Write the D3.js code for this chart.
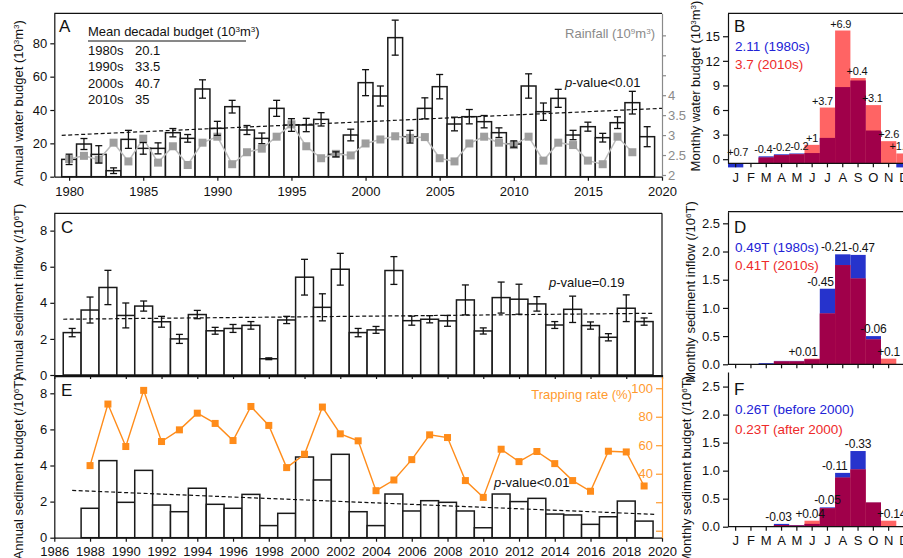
<!DOCTYPE html>
<html><head><meta charset="utf-8">
<script src="https://cdn.jsdelivr.net/npm/d3@7"></script>
<style>
body{margin:0;background:#fff}
svg{font-family:"Liberation Sans Narrow","Arial Narrow","Liberation Sans",Arial,sans-serif}
.axis text{font-size:13px;fill:#111}
.axis path,.axis line{stroke:#111;stroke-width:1.2}
.grey text{fill:#8a8a8a}.grey path,.grey line{stroke:#8a8a8a}
.orange text{fill:#ff9a2e}.orange path,.orange line{stroke:#ff9a2e}
</style></head><body>
<script>
// ---------- DATA ----------
const waterYears = d3.range(1980, 2020);
const waterBudget = [10.4,19.6,13.4,3.6,22.4,17,17,26.4,23,52.6,29,42,28,23,41,31,31,34.4,13.4,25,56.4,48.4,83.4,24,41,54,31.6,36,33,26.4,19.6,54.4,39,47,25,30,23.4,32.4,44.4,24];
const waterErr = [3.1,3.3,5.2,1.7,5.4,3.5,3.3,2.5,2.3,5.5,4.2,3.8,2.7,3.2,4.8,3.8,4.0,4.0,1.5,3.5,7.8,6.0,10.5,3.8,6.3,7.3,4.1,4.3,3.7,2.9,1.9,7.3,5.2,5.4,2.8,2.7,2.6,3.5,6.8,6.0];
const rainfall = [2.40,2.48,2.38,2.81,2.34,2.91,2.31,2.72,2.25,2.81,2.96,2.27,2.57,2.66,2.96,3.27,2.72,2.42,2.53,2.49,2.79,2.89,2.97,2.93,2.95,2.42,2.34,2.79,2.96,2.81,2.75,2.96,2.36,2.81,2.75,2.36,2.27,2.96,2.57,null];
const decades = ["1980s","1990s","2000s","2010s"];
const decadalMean = ["20.1","33.5","40.7","35"];
const trendWater = [[1979.5,24.8],[2020,41]];

const inflowYears = d3.range(1987, 2020);
const sedInflow = [2.35,3.6,4.85,3.3,3.82,2.95,2.0,3.35,2.45,2.58,2.75,0.9,3.05,5.42,3.75,5.86,2.35,2.5,5.79,3.01,3.09,3.0,4.16,2.44,4.29,4.2,3.94,2.77,3.64,2.74,2.09,3.7,2.96];
const sedInflowErr = [0.23,0.72,0.95,0.69,0.28,0.3,0.25,0.23,0.19,0.22,0.21,0.05,0.2,0.99,0.75,0.88,0.23,0.19,0.77,0.25,0.2,0.3,0.83,0.17,0.86,0.83,0.4,0.19,0.73,0.2,0.2,0.74,0.2];
const trendInflow = [[1986.5,3.09],[2019.5,3.42]];

const budgetYears = d3.range(1988, 2020);
const sedBudget = [1.63,4.27,1.96,3.73,1.81,1.44,2.74,1.85,1.63,2.40,0.67,1.35,4.47,3.2,4.62,1.44,0.67,2.42,1.48,2.05,1.96,1.48,0.55,2.42,2.0,2.18,1.31,1.26,0.74,1.16,2.03,0.92];
const trappingRate = [45.7,88.9,59.1,98.5,62.6,70.8,82.5,75.3,63.3,87.2,73.9,44.3,53.7,86.8,68.0,63.1,28.1,35.6,49.9,67.3,65.4,35.2,23.4,57.2,48.5,55.6,47.1,35.2,27.7,55.8,55.3,31.4];
const trendBudget = [[1987,2.62],[2019.7,1.29]];

const months = ["J","F","M","A","M","J","J","A","S","O","N","D"];
const water1980s = [-0.5,0,0.35,0.6,0.7,0.75,2.6,8.8,9.6,3.5,0,-0.5];
const water2010s = [0,0,0.2,0.5,0.6,1.75,6.3,15.7,9.9,6.6,2.2,0.7];
const waterDiff = ["+0.7","","-0.4","-0.2","-0.2","+1","+3.7","+6.9","+0.4","+3.1","+2.6","+1.2"];
const inflow1980s = [0,0,0.02,0.06,0.06,0.09,1.34,1.95,1.94,0.50,0,0];
const inflow2010s = [0,0,0,0.05,0.05,0.10,0.90,1.76,1.52,0.44,0.10,0];
const inflowDiff = ["","","","","","+0.01","-0.45","-0.21","-0.47","-0.06","+0.1",""];
const budgetBefore = [0.01,0.01,0.01,0.05,0.03,0.05,0.345,0.96,1.35,0.43,0.005,0.01];
const budgetAfter = [0,0,0,0.03,0.02,0.107,0.33,0.875,1.02,0.43,0.107,0];
const budgetDiff = ["","","","-0.03","","+0.04","-0.05","-0.11","-0.33","","+0.14",""];

// ---------- HELPERS ----------
const BLUE="#2633cc", RED="#ff6464", MAROON="#a0004a", TBLUE="#2222d6", TRED="#ee2a2a", ORANGE="#ff8c1a";
const svg = d3.select("body").append("svg").attr("width",903).attr("height",558);

function rich(sel, parts){
  let pend = 0;
  parts.forEach(p=>{
    if(p.startsWith("^")){
      sel.append("tspan").attr("font-size","0.62em").attr("dy","-0.55em").text(p.slice(1));
      pend = 1;
    } else if(p.startsWith("_i")){
      sel.append("tspan").attr("font-style","italic").text(p.slice(2));
    } else {
      const t = sel.append("tspan").text(p);
      if(pend){ t.attr("dy", (0.55*0.62)+"em"); pend=0; }
    }
  });
  return sel;
}
function label(x,y,parts,opts={}){
  const t = svg.append("text").attr("x",x).attr("y",y)
    .attr("font-size",opts.size||13).attr("fill",opts.fill||"#111")
    .attr("text-anchor",opts.anchor||"start");
  if(opts.family) t.attr("font-family",opts.family);
  rich(t, parts); return t;
}
function vlabel(cx,cy,parts,size=13){
  const t = svg.append("text").attr("transform",`translate(${cx},${cy}) rotate(-90)`)
    .attr("text-anchor","middle").attr("font-size",size).attr("fill","#111");
  rich(t, parts);
}
function hline(x1,x2,y,color="#111",w=1.2){
  svg.append("line").attr("x1",x1).attr("x2",x2).attr("y1",y).attr("y2",y).attr("stroke",color).attr("stroke-width",w);
}
function vline(x,y1,y2,color="#111",w=1.2){
  svg.append("line").attr("x1",x).attr("x2",x).attr("y1",y1).attr("y2",y2).attr("stroke",color).attr("stroke-width",w);
}
function bars(g,x,y,years,vals){
  const w = x(1)-x(0);
  g.selectAll(null).data(years).join("rect")
    .attr("x",d=>x(d-0.5)).attr("width",w)
    .attr("y",(d,i)=>y(vals[i])).attr("height",(d,i)=>y(0)-y(vals[i]))
    .attr("fill","#fff").attr("stroke","#1a1a1a").attr("stroke-width",1.5);
}
function errbars(g,x,y,years,vals,errs){
  years.forEach((yr,i)=>{
    const cx=x(yr), t=y(vals[i]+errs[i]), b=y(vals[i]-errs[i]);
    g.append("line").attr("x1",cx).attr("x2",cx).attr("y1",t).attr("y2",b).attr("stroke","#111").attr("stroke-width",1.3);
    [t,b].forEach(yy=>g.append("line").attr("x1",cx-3.5).attr("x2",cx+3.5).attr("y1",yy).attr("y2",yy).attr("stroke","#111").attr("stroke-width",1.3));
  });
}
function trend(g,x,y,pts){
  g.append("path").attr("d",d3.line().x(d=>x(d[0])).y(d=>y(d[1]))(pts))
    .attr("fill","none").attr("stroke","#111").attr("stroke-width",1.2).attr("stroke-dasharray","4,2.5");
}

// ---------- PANEL A ----------
const xA = d3.scaleLinear().domain([1979,2020]).range([54.3,662]);
const yA = d3.scaleLinear().domain([0,98]).range([176.7,13.3]);
const rA = d3.scaleLinear().domain([1.957,6.053]).range([176.7,13.3]);
const gA = svg.append("g");
bars(gA,xA,yA,waterYears,waterBudget);
const rainPts = waterYears.map((yr,i)=>({yr,r:rainfall[i]})).filter(d=>d.r!=null);
gA.append("path").attr("d",d3.line().x(d=>xA(d.yr)).y(d=>rA(d.r))(rainPts))
  .attr("fill","none").attr("stroke","#bdbdbd").attr("stroke-width",1.5);
gA.selectAll(null).data(rainPts).join("rect")
  .attr("x",d=>xA(d.yr)-4).attr("y",d=>rA(d.r)-4).attr("width",8).attr("height",8).attr("fill","#9e9e9e");
errbars(gA,xA,yA,waterYears,waterBudget,waterErr);
trend(gA,xA,yA,trendWater);
svg.append("g").attr("class","axis").attr("transform","translate(54.3,0)")
  .call(d3.axisLeft(yA).tickValues([0,20,40,60,80]).tickSize(4).tickSizeOuter(0));
svg.append("g").attr("class","axis").attr("transform","translate(0,176.7)")
  .call(d3.axisBottom(xA).tickValues(d3.range(1980,2021,5)).tickFormat(d3.format("d")).tickSize(4).tickSizeOuter(0).tickPadding(6));
svg.append("g").attr("class","axis grey").attr("transform","translate(662,0)")
  .call(d3.axisRight(rA).tickValues([2,2.5,3,3.5,4,4.5,5,5.5]).tickFormat(d=>d<=4?d:"").tickSize(4).tickSizeOuter(0).tickPadding(2));
hline(54.3,662,13.3);
label(59,32,["A"],{size:17,family:"Liberation Sans, Arial, sans-serif"});
label(88,36,["Mean decadal budget (10","^3","m","^3",")"],{size:13});
hline(88,246,41,"#111",1);
decades.forEach((d,i)=>{
  const yy=[55,71,87.5,104][i];
  label(88,yy,[d],{size:13}); label(135,yy,[decadalMean[i]],{size:13});
});
label(655,38,["Rainfall (10","^9","m","^3",")"],{size:13,fill:"#8a8a8a",anchor:"end"});
label(565,87,["_ip","-value<0.01"],{size:13});
vlabel(23,103,["Annual water budget (10","^3","m","^3",")"]);

// ---------- PANEL C ----------
const xC = d3.scaleLinear().domain([1986,2020]).range([54.3,662]);
const yC = d3.scaleLinear().domain([0,8.96]).range([375,213.3]);
const gC = svg.append("g");
bars(gC,xC,yC,inflowYears,sedInflow);
errbars(gC,xC,yC,inflowYears,sedInflow,sedInflowErr);
trend(gC,xC,yC,trendInflow);
svg.append("g").attr("class","axis").attr("transform","translate(54.3,0)")
  .call(d3.axisLeft(yC).tickValues([0,2,4,6,8]).tickSize(4).tickSizeOuter(0));
svg.append("g").attr("class","axis").attr("transform","translate(0,375)")
  .call(d3.axisBottom(xC).tickValues(d3.range(1986,2021,2)).tickFormat("").tickSize(4).tickSizeOuter(0));
hline(54.3,662,213.3); vline(662,213.3,375);
label(61,233,["C"],{size:17,family:"Liberation Sans, Arial, sans-serif"});
label(549,287,["_ip","-value=0.19"],{size:13});
vlabel(23,292,["Annual sediment inflow (/10","^6","T)"]);

// ---------- PANEL E ----------
const yE = d3.scaleLinear().domain([0,8.92]).range([537.7,376.7]);
const tE = d3.scaleLinear().domain([-4.9,108.1]).range([537.7,376.7]);
const gE = svg.append("g");
bars(gE,xC,yE,budgetYears,sedBudget);
trend(gE,xC,yE,trendBudget);
gE.append("path").attr("d",d3.line().x((d,i)=>xC(budgetYears[i])).y(d=>tE(d))(trappingRate))
  .attr("fill","none").attr("stroke",ORANGE).attr("stroke-width",1.4);
gE.selectAll(null).data(trappingRate).join("rect")
  .attr("x",(d,i)=>xC(budgetYears[i])-3.5).attr("y",d=>tE(d)-3.5).attr("width",7).attr("height",7).attr("fill",ORANGE);
svg.append("g").attr("class","axis").attr("transform","translate(54.3,0)")
  .call(d3.axisLeft(yE).tickValues([0,2,4,6,8]).tickSize(4).tickSizeOuter(0));
svg.append("g").attr("class","axis").attr("transform","translate(0,537.7)")
  .call(d3.axisBottom(xC).tickValues(d3.range(1986,2021,2)).tickFormat(d3.format("d")).tickSize(4).tickSizeOuter(0).tickPadding(5));
svg.append("g").attr("class","axis orange").attr("transform","translate(662,0)")
  .call(d3.axisLeft(tE).tickValues([0,20,40,60,80,100]).tickFormat(d=>d>=40?d:"").tickSize(6).tickSizeOuter(0).tickPadding(3));
hline(54.3,662,376.7);
label(61,396,["E"],{size:17,family:"Liberation Sans, Arial, sans-serif"});
label(632,399,["Trapping rate (%)"],{size:13,fill:"#ff9a2e",anchor:"end"});
label(494,487,["_ip","-value<0.01"],{size:13});
vlabel(23,468,["Annual sediment budget (/10","^6","T)"]);

// ---------- MONTHLY PANELS ----------
const xM = d3.scaleBand().domain(d3.range(12)).range([728,728+12*15.3]);
function monthly(y, base, v1, v2, diffs, shifts, top, bottom, showLetters, tickVals, fmt, fs){
  const g = svg.append("g");
  const bw = xM.bandwidth();
  const drawBar = (vals,color)=>vals.forEach((v,i)=>{
    if(v===0) return;
    const y0=y(base);
    if(v<0){ g.append("rect").attr("x",xM(i)).attr("width",bw).attr("y",y0).attr("height",y(base+v)-y0).attr("fill",color); }
    else { g.append("rect").attr("x",xM(i)).attr("width",bw).attr("y",y(v)).attr("height",y0-y(v)).attr("fill",color); }
  });
  drawBar(v1,BLUE); drawBar(v2,RED);
  drawBar(v1.map((v,i)=>(v>0&&v2[i]>0)?Math.min(v,v2[i]):0),MAROON);
  diffs.forEach((d,i)=>{
    if(!d) return;
    const m=Math.max(v1[i],v2[i],0);
    g.append("text").attr("x",xM(i)+bw/2+shifts[i]).attr("y",y(m)-3).attr("text-anchor","middle")
      .attr("font-size",fs).attr("letter-spacing",-0.2).attr("fill","#111").text(d);
  });
  svg.append("g").attr("class","axis").attr("transform","translate(728,0)")
    .call(d3.axisLeft(y).tickValues(tickVals).tickFormat(fmt).tickSize(5).tickSizeOuter(0));
  const ax = d3.axisBottom(xM).tickSize(4).tickSizeOuter(0).tickPadding(5)
    .tickFormat(showLetters?(i=>months[i]):"");
  const ga = svg.append("g").attr("class","axis").attr("transform",`translate(0,${bottom})`).call(ax);
  ga.select(".domain").attr("d",`M728,0H903`);
  if(top!==null) hline(728,903,top);
}
const yB = d3.scaleLinear().domain([-0.5,17.8]).range([163.3,13.3]);
monthly(yB,-0.5,water1980s,water2010s,waterDiff,[2,0,-3,0,2.5,0,-5,-2,-1,-1,0,-4],13.3,163.3,true,[0,3,6,9,12,15],d3.format("d"),11);
label(734,32,["B"],{size:17,family:"Liberation Sans, Arial, sans-serif"});
label(735,51,["2.11 (1980s)"],{size:13.5,fill:TBLUE});
label(735,69,["3.7 (2010s)"],{size:13.5,fill:TRED});
vlabel(700,86,["Monthly water budget (10","^3","m","^3",")"]);

const yD = d3.scaleLinear().domain([0,2.706]).range([364.3,211.7]);
monthly(yD,0,inflow1980s,inflow2010s,inflowDiff,[0,0,0,0,0,-9,-7,-8.5,3.5,0,0,0],211.7,364.3,false,[0,0.5,1,1.5,2,2.5],d3.format(".1f"),12);
label(734,233,["D"],{size:17,family:"Liberation Sans, Arial, sans-serif"});
label(735,252,["0.49T (1980s)"],{size:13.5,fill:TBLUE});
label(735,270,["0.41T (2010s)"],{size:13.5,fill:TRED});
vlabel(695,292,["Monthly sediment inflow (/10","^6","T)"]);

const yF = d3.scaleLinear().domain([0,2.76]).range([526.7,372]);
monthly(yF,0,budgetBefore,budgetAfter,budgetDiff,[0,0,0,-3,0,-2,0,-8,0,0,3,0],null,526.7,true,[0,0.5,1,1.5,2,2.5],d3.format(".1f"),12);
label(734,395,["F"],{size:17,family:"Liberation Sans, Arial, sans-serif"});
label(735,414,["0.26T (before 2000)"],{size:13.5,fill:TBLUE});
label(735,434,["0.23T (after 2000)"],{size:13.5,fill:TRED});
vlabel(691,470,["Monthly sediment budget (/10","^6","T)"]);
</script></body></html>
